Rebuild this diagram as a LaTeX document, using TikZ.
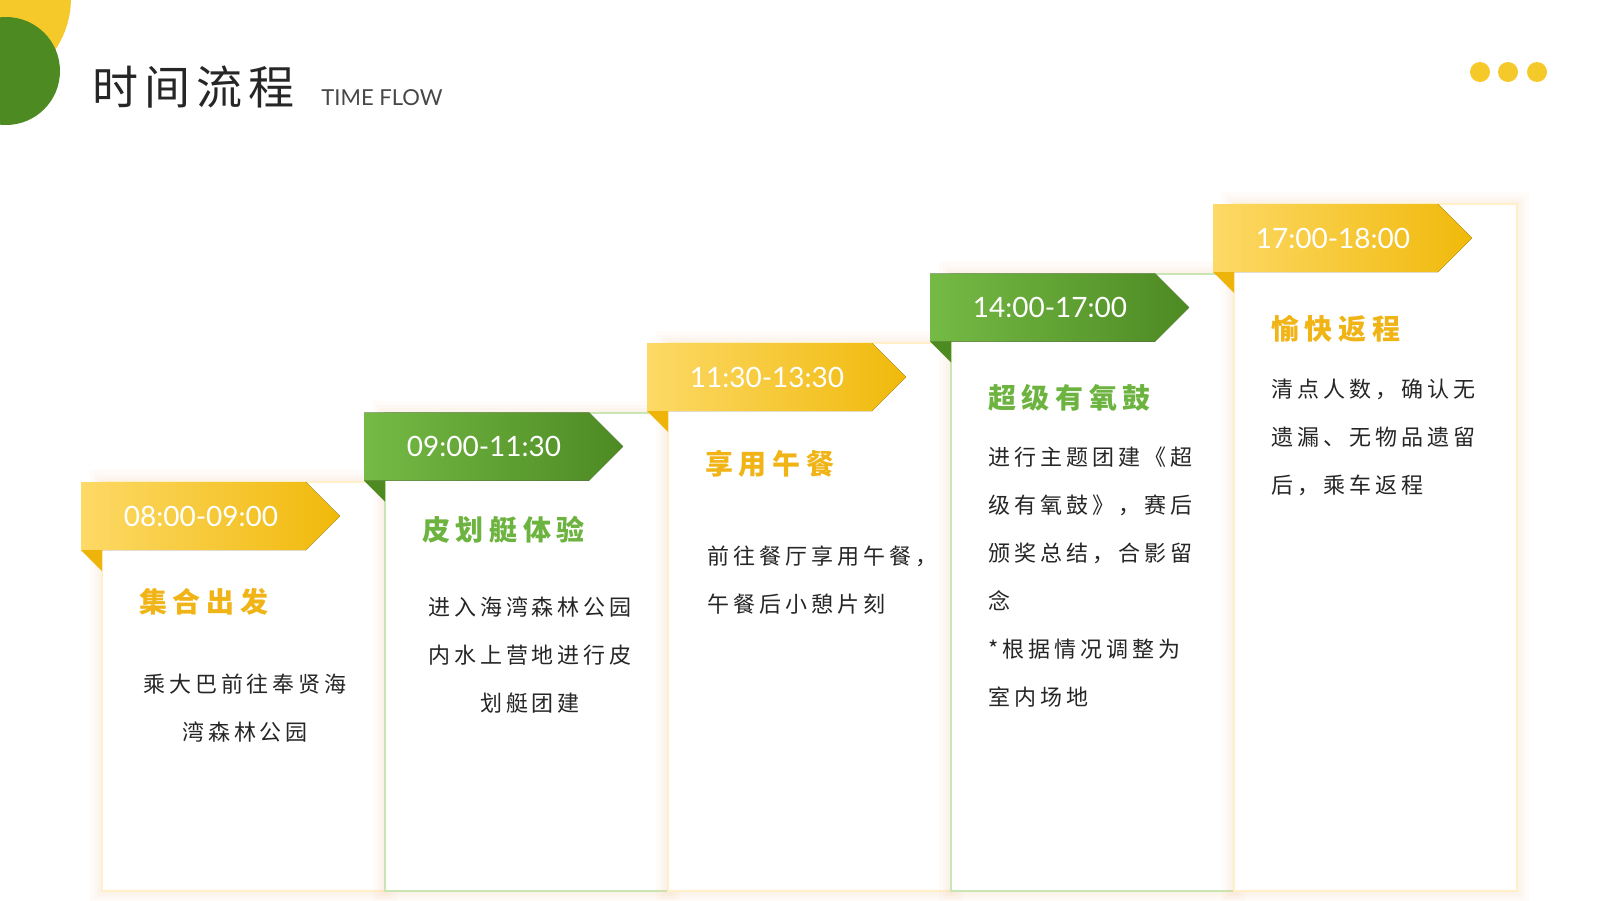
\documentclass[tikz,border=0pt]{standalone}
\usepackage{fontspec}
\setmainfont{Lato}
\newfontfamily\cjk{Noto Sans CJK SC}
\newfontfamily\cjktitle[LetterSpace=13]{Noto Sans CJK SC}
\newfontfamily\cjkhead[LetterSpace=20]{Noto Sans CJK SC}
\newfontfamily\cjkbody[LetterSpace=18]{Noto Sans CJK SC}
\definecolor{ink}{HTML}{262626}
\definecolor{gold}{HTML}{F5C92A}
\definecolor{leaf}{HTML}{4E8A22}
\definecolor{peach}{HTML}{EFC39A}
\definecolor{yelL}{HTML}{FDD966}
\definecolor{yelD}{HTML}{F0B90B}
\definecolor{yelF}{HTML}{EFB40A}
\definecolor{yelT}{HTML}{F0B416}
\definecolor{yelP}{HTML}{FFF0C8}
\definecolor{grnL}{HTML}{75BA45}
\definecolor{grnD}{HTML}{4D8A23}
\definecolor{grnF}{HTML}{4E8A22}
\definecolor{grnT}{HTML}{6DB33F}
\definecolor{grnP}{HTML}{CAE5B4}
\tikzset{
  glow/.style={draw=peach,opacity=0.06},
  cardbody/.style={fill=white,line width=1pt},
  timelbl/.style={text=white,font=\fontsize{14}{16}\selectfont,inner sep=0pt},
  headlbl/.style={anchor=west,font=\cjkhead\bfseries\fontsize{14}{16}\selectfont,inner sep=0pt},
  bodylbl/.style={font=\cjkbody\fontsize{11}{24}\selectfont,text=ink,inner sep=0pt}
}

\begin{document}
\begin{tikzpicture}[x=0.5pt,y=-0.5pt,
    dot/.style={circle,fill=gold,inner sep=0pt,minimum size=10pt}]
  \useasboundingbox (0,0) rectangle (1600,900);

  % corner decoration
  \fill[gold] (-22,-2) circle[radius=93];
  \fill[leaf] (6,71) circle[radius=54];

  \node[anchor=west,font=\cjktitle\fontsize{23}{26}\selectfont,text=ink,inner sep=0pt] (title) at (92,87) {时间流程};
  \node[anchor=base west,font=\fontsize{11}{12}\selectfont,text=ink!85,inner sep=0pt] (subtitle) at (321,105) {TIME FLOW};

  \node[dot] (d1) at (1480,72) {};
  \node[dot] (d2) at (1508,72) {};
  \node[dot] (d3) at (1537,72) {};

  % cards
  \foreach \i/\tm/\pal/\hd/\dy in {
      0/08:00-09:00/yel/集合出发/0,
      1/09:00-11:30/grn/皮划艇体验/-3,
      2/11:30-13:30/yel/享用午餐/1,
      3/14:00-17:00/grn/超级有氧鼓/4,
      4/17:00-18:00/yel/愉快返程/5}
  {
    \pgfmathsetmacro\xa{81+283*\i}
    \pgfmathsetmacro\ya{482-69.5*\i}
    \foreach \w in {12,8,5,2}
      \draw[glow,line width=\w pt] (\xa+21,\ya) rectangle (\xa+304,891);
    \draw[cardbody,draw=\pal P] (\xa+21,\ya) rectangle (\xa+304,891);
    \fill[left color=\pal L,right color=\pal D] (\xa,\ya) -- ++(225,0) -- ++(34,34) -- ++(-34,34) -- ++(-225,0) -- cycle;
    \fill[\pal F] (\xa,\ya+68) -- ++(21,0) -- ++(0,21) -- cycle;
    \node[timelbl] (time\i) at (\xa+120,\ya+34) {\tm};
    \node[headlbl,text=\pal T] (head\i) at (\xa+58,\ya+120+\dy) {\hd};
  }

  \node[bodylbl,align=center,anchor=north] (body0) at (245,673) {乘大巴前往奉贤海\\湾森林公园};
  \node[bodylbl,align=center,anchor=north] (body1) at (530,596) {进入海湾森林公园\\内水上营地进行皮\\划艇团建};
  \node[bodylbl,align=left,anchor=north west] (body2) at (707,545) {前往餐厅享用午餐，\\午餐后小憩片刻};
  \node[bodylbl,align=left,anchor=north west] (body3) at (988,446) {进行主题团建《超\\级有氧鼓》，赛后\\颁奖总结，合影留\\念\\*根据情况调整为\\室内场地};
  \node[bodylbl,align=left,anchor=north west] (body4) at (1271,379) {清点人数，确认无\\遗漏、无物品遗留\\后，乘车返程};
\end{tikzpicture}
\end{document}
